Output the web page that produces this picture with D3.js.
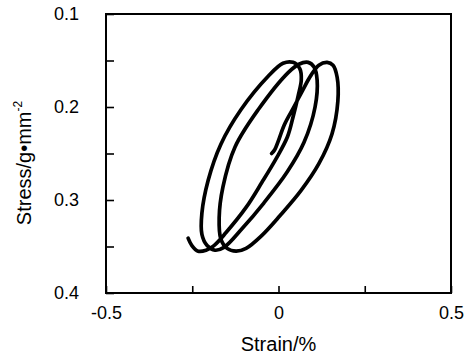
<!DOCTYPE html>
<html>
<head>
<meta charset="utf-8">
<script src="https://cdn.jsdelivr.net/npm/d3@7"></script>
<style>
  body { margin: 0; background: #fff; }
  svg { display: block; }
  text { font-family: "Liberation Sans", Arial, Helvetica, sans-serif; fill: #000; }
</style>
</head>
<body>
<div id="chart"></div>
<script>
var strain = [-0.262, -0.251, -0.233, -0.210,
  -0.187, -0.152, -0.094, -0.048, -0.006, 0.026, 0.042, 0.057, 0.066, 0.062, 0.042,
  0.013, -0.030, -0.109, -0.167, -0.204, -0.222, -0.222, -0.207, -0.184,
  -0.158, -0.106, -0.042, 0.025, 0.074, 0.106, 0.112, 0.103, 0.086,
  0.059, 0.028, -0.059, -0.126, -0.161, -0.172, -0.167, -0.149, -0.123,
  -0.094, -0.048, 0.004, 0.065, 0.117, 0.155, 0.172, 0.170, 0.158, 0.141,
  0.117, 0.094, 0.070, 0.046, 0.017, -0.001, -0.011, -0.020];
var stress = [0.341, 0.349, 0.355, 0.354,
  0.349, 0.335, 0.308, 0.281, 0.255, 0.232, 0.211, 0.188, 0.171, 0.159, 0.152,
  0.153, 0.167, 0.203, 0.240, 0.279, 0.314, 0.337, 0.349, 0.354,
  0.351, 0.331, 0.303, 0.270, 0.238, 0.200, 0.171, 0.157, 0.152,
  0.154, 0.163, 0.203, 0.243, 0.286, 0.319, 0.342, 0.352, 0.355,
  0.352, 0.338, 0.317, 0.290, 0.261, 0.229, 0.194, 0.168, 0.155, 0.152,
  0.155, 0.166, 0.182, 0.199, 0.219, 0.237, 0.246, 0.250];

var xTicks = [-0.5, -0.25, 0, 0.25, 0.5];
var xLabels = [-0.5, 0, 0.5];
var yTicks = [0.1, 0.15, 0.2, 0.25, 0.3, 0.35, 0.4];
var yLabels = [0.1, 0.2, 0.3, 0.4];

var width = 468, height = 355;
var pLeft = 106, pRight = 451, pTop = 14, pBottom = 293;

var svg = d3.select("#chart").append("svg").attr("width", width).attr("height", height);

var x = d3.scaleLinear().domain([-0.5, 0.5]).range([pLeft, pRight]);
var y = d3.scaleLinear().domain([0.1, 0.4]).range([pTop, pBottom]);

// plain hyphen like the original, not the unicode minus
var fmt = function(d) { return d === 0 ? "0" : (d < 0 ? "-" : "") + Math.abs(d).toFixed(1); };

var xAxis = svg.append("g").attr("transform", "translate(0," + pBottom + ")")
  .call(d3.axisBottom(x).tickValues(xTicks).tickSizeInner(-7).tickSizeOuter(0).tickPadding(13)
    .tickFormat(function(d) { return xLabels.indexOf(d) >= 0 ? fmt(d) : ""; }));
var yAxis = svg.append("g").attr("transform", "translate(" + pLeft + ",0)")
  .call(d3.axisLeft(y).tickValues(yTicks).tickSizeInner(-8).tickSizeOuter(0).tickPadding(27)
    .tickFormat(function(d) { return yLabels.indexOf(d) >= 0 ? fmt(d) : ""; }));

[xAxis, yAxis].forEach(function(a) {
  a.select(".domain").remove();
  a.selectAll(".tick line").attr("stroke", "#000").attr("stroke-width", 1.6);
  a.selectAll(".tick text").attr("font-size", 18).attr("font-family", "Liberation Sans, Arial, sans-serif");
});

// frame
svg.append("rect").attr("x", pLeft).attr("y", pTop)
  .attr("width", pRight - pLeft).attr("height", pBottom - pTop)
  .attr("fill", "none").attr("stroke", "#000").attr("stroke-width", 2);

var pts = strain.map(function(d, i) { return [d, stress[i]]; });
var line = d3.line().x(function(d) { return x(d[0]); }).y(function(d) { return y(d[1]); })
  .curve(d3.curveCatmullRom.alpha(0.5));

svg.append("path").datum(pts).attr("d", line)
  .attr("fill", "none").attr("stroke", "#000").attr("stroke-width", 3.7)
  .attr("stroke-linejoin", "round").attr("stroke-linecap", "round");

// axis titles
svg.append("text").attr("x", (pLeft + pRight) / 2).attr("y", 351)
  .attr("text-anchor", "middle").attr("font-size", 20).text("Strain/%");

var yt = svg.append("text").attr("transform", "translate(31,163) rotate(-90)")
  .attr("text-anchor", "middle").attr("font-size", 20);
yt.append("tspan").text("Stress/g\u2022mm");
yt.append("tspan").attr("font-size", 12).attr("dy", -9).text("-2");
</script>
</body>
</html>
